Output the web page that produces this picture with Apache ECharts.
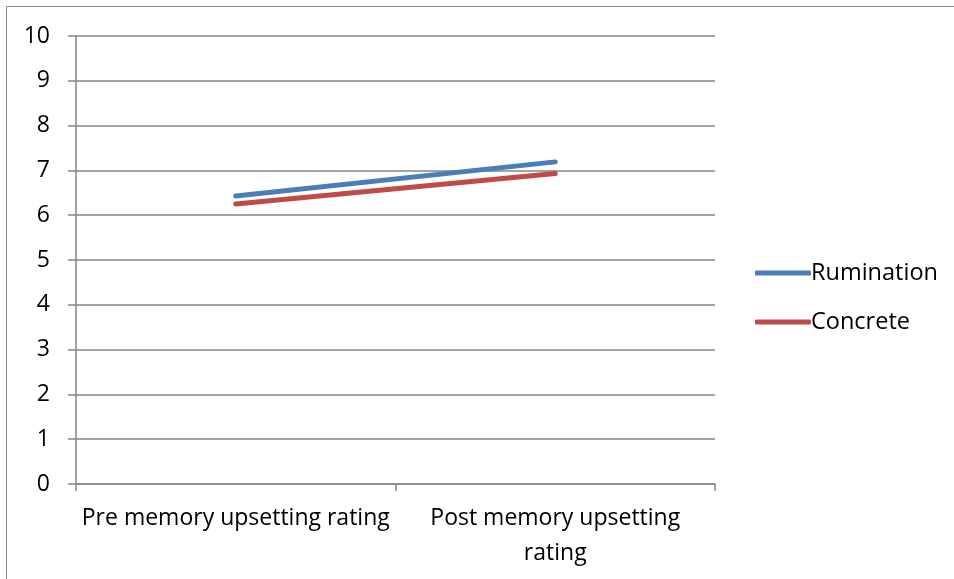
<!DOCTYPE html>
<html>
<head>
<meta charset="utf-8">
<script src="https://cdn.jsdelivr.net/npm/echarts@6/dist/echarts.min.js"></script>
<style>
  html, body { margin: 0; padding: 0; background: #ffffff; }
  #chart { width: 954px; height: 579px; }
</style>
</head>
<body>
<div id="chart"></div>
<script>
// Upsetting ratings before and after the memory task, by condition
const categories = ['Pre memory upsetting rating', 'Post memory upsetting\nrating'];
const rumination = [6.43, 7.19];
const concrete = [6.25, 6.93];
const yTicks = [0, 1, 2, 3, 4, 5, 6, 7, 8, 9, 10];

const FONT = '"Open Sans", sans-serif';
const FONT_SIZE = 23;
const GRID_GRAY = '#868686';
const BLUE = '#4A7EBB';
const RED = '#BE4B48';

const chart = echarts.init(document.getElementById('chart'), null, { renderer: 'canvas' });

chart.setOption({
  animation: false,
  backgroundColor: '#ffffff',
  graphic: [{
    type: 'rect',
    shape: { x: 6.5, y: 6.5, width: 980, height: 620 },
    style: { fill: 'none', stroke: GRID_GRAY, lineWidth: 1 },
    silent: true
  }],
  grid: { left: 76, right: 239, top: 36, bottom: 95 },
  legend: {
    orient: 'vertical',
    left: 750,
    top: 256,
    itemWidth: 56,
    itemHeight: 5,
    itemGap: 25,
    icon: 'roundRect',
    textStyle: { fontFamily: FONT, fontSize: 23.5, lineHeight: 24, color: '#000000', padding: [0, 0, 0, -5] },
    data: [
      { name: 'Rumination', itemStyle: { color: BLUE } },
      { name: 'Concrete', itemStyle: { color: RED } }
    ]
  },
  xAxis: {
    type: 'category',
    data: categories,
    boundaryGap: true,
    axisLine: { lineStyle: { color: GRID_GRAY, width: 1.5 } },
    axisTick: { show: true, length: 7, alignWithLabel: false, lineStyle: { color: GRID_GRAY, width: 1.5 } },
    axisLabel: {
      fontFamily: FONT, fontSize: FONT_SIZE, color: '#000000', margin: 17,
      lineHeight: 35, align: 'center', interval: 0
    },
    splitLine: { show: false }
  },
  yAxis: {
    type: 'value',
    min: yTicks[0],
    max: yTicks[yTicks.length - 1],
    interval: 1,
    axisLine: { show: true, lineStyle: { color: GRID_GRAY, width: 1.5 } },
    axisTick: { show: true, length: 8, lineStyle: { color: GRID_GRAY, width: 1.5 } },
    axisLabel: { fontFamily: FONT, fontSize: FONT_SIZE, color: '#000000', margin: 26 },
    splitLine: { show: true, lineStyle: { color: GRID_GRAY, width: 1.5 } }
  },
  series: [
    {
      name: 'Rumination',
      type: 'line',
      data: rumination,
      symbol: 'none',
      color: BLUE,
      lineStyle: { width: 5, cap: 'round', color: BLUE }
    },
    {
      name: 'Concrete',
      type: 'line',
      data: concrete,
      symbol: 'none',
      color: RED,
      lineStyle: { width: 5, cap: 'round', color: RED }
    }
  ]
});
</script>
</body>
</html>
